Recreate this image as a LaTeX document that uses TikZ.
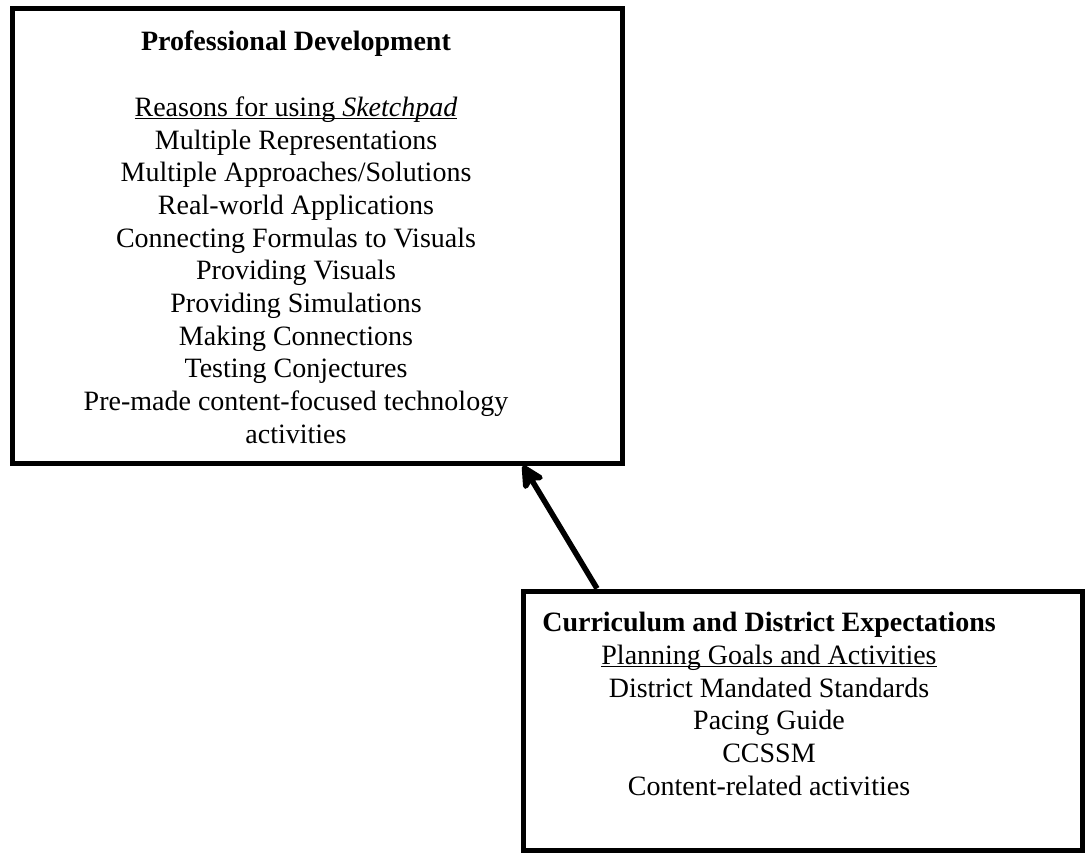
\documentclass[tikz,border=0pt]{standalone}
\usepackage{fontspec}
\setmainfont{Liberation Serif}
\usetikzlibrary{arrows.meta}
\newcommand\ulnd[1]{\underline{\smash{#1}}}
\begin{document}
\begin{tikzpicture}[x=1pt,y=-1pt,
		box/.style={draw,line width=5pt,inner sep=0pt},
		txt/.style={align=center,inner sep=0pt,anchor=north,font=\fontsize{28}{32.7}\selectfont},
		arr/.style={line width=5.5pt,-{Stealth[length=28pt,width=28pt,inset=7pt,round]}}]
	\useasboundingbox (0,0) rectangle (1089,853);
	\node[box,minimum width=610pt,minimum height=454pt] (pd) at (317,236) {};
	\node[box,minimum width=559pt,minimum height=259pt] (cde) at (802.5,720.5) {};

	\node[txt] (pdtext) at (296,31) {\textbf{Professional Development}\\[32.7pt]
		\ulnd{Reasons for using \textit{Sketchpad}}\\
		Multiple Representations\\
		Multiple Approaches/Solutions\\
		Real-world Applications\\
		Connecting Formulas to Visuals\\
		Providing Visuals\\
		Providing Simulations\\
		Making Connections\\
		Testing Conjectures\\
		Pre-made content-focused technology\\
		activities};
	\node[txt] (cdetext) at (769,612) {\textbf{Curriculum and District Expectations}\\
		\ulnd{Planning Goals and Activities}\\
		District Mandated Standards\\
		Pacing Guide\\
		CCSSM\\
		Content-related activities};

	\draw [arr] ([xshift=76.5pt]cde.north west) -- ([xshift=513.5pt]pd.south west);
\end{tikzpicture}
\end{document}
